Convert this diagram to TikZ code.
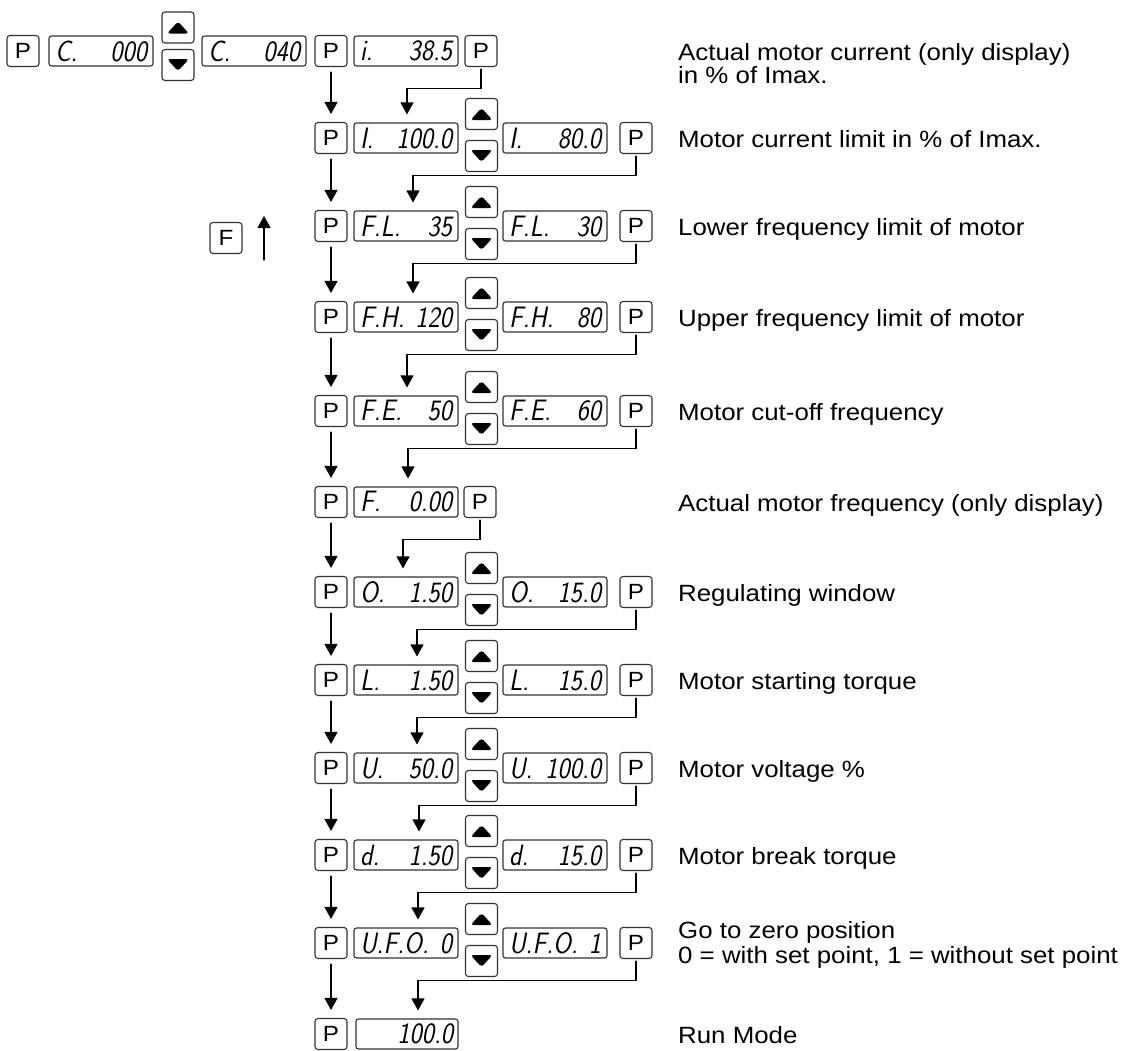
\documentclass[tikz,border=0pt]{standalone}
\usepackage{fontspec}
\setmainfont{Liberation Sans}[FakeStretch=1.1]
\newfontfamily\segfont{lmsans17-oblique.otf}[FakeStretch=0.88]
\usetikzlibrary{arrows.meta}
\newcommand\segtext[2]{\makebox[92pt]{#1\hfill#2}}

\begin{document}
\begin{tikzpicture}[x=1pt, y=-1pt, line cap=round,
    key/.style={draw=black!80, line width=1.1pt, rounded corners=3pt, minimum width=32pt,
      minimum height=31pt, inner sep=0pt, font=\fontsize{22}{24}\selectfont},
    disp/.style={draw=black!80, line width=1.1pt, rounded corners=2.5pt, minimum width=104pt,
      minimum height=30pt, inner sep=0pt, font=\segfont\fontsize{29.5}{30}\selectfont},
    upkey/.style={key, path picture={\fill (path picture bounding box.center) ++(-11pt,-6pt)
      -- ++(22pt,0pt) -- ++(-11pt,12pt) -- cycle;}},
    dnkey/.style={key, path picture={\fill (path picture bounding box.center) ++(-11pt,6pt)
      -- ++(22pt,0pt) -- ++(-11pt,-12pt) -- cycle;}},
    flow/.style={line width=1.1pt, -{Triangle[width=13pt,length=12pt]}},
    lbl/.style={anchor=base west, inner sep=0pt, font=\fontsize{23.5}{24}\selectfont}]
  \useasboundingbox (0,0) rectangle (1139,1050);
  % first row: code entry
  \node[key] (p0) at (23,51) {P};
  \node[disp] (c0) at (101,51) {\segtext{C.}{000}};
  \node[upkey] (up1) at (178,27.5) {};
  \node[dnkey] (dn1) at (178,65) {};
  \node[disp] (c1) at (254,51) {\segtext{C.}{040}};
  \node[key] (pl1) at (331,51) {P};
  \node[disp] (dl1) at (406,51) {\segtext{i.}{38.5}};
  \node[key] (pr1) at (481,51) {P};
  \node[lbl] (t1) at (678,60) {Actual motor current (only display)};
  \node[lbl] (t1b) at (678,83) {in \% of Imax.};
  % parameter rows with up/down keys
  \foreach \r/\y/\al/\ar/\bl/\br/\txt in {
      2/138/I./100.0/I./80.0/{Motor current limit in \% of Imax.},
      3/226/F.L./35/F.L./30/{Lower frequency limit of motor},
      4/317/F.H./120/F.H./80/{Upper frequency limit of motor},
      5/411/F.E./50/F.E./60/{Motor cut-off frequency},
      7/592/O./1.50/O./15.0/{Regulating window},
      8/680/L./1.50/L./15.0/{Motor starting torque},
      9/768/U./50.0/U./100.0/{Motor voltage \%},
      10/855/d./1.50/d./15.0/{Motor break torque}}{
    \node[key] (pl\r) at (331,\y) {P};
    \node[disp] (dl\r) at (406,\y) {\segtext{\al}{\ar}};
    \node[upkey] (up\r) at (481.5,\y-24) {};
    \node[dnkey] (dn\r) at (481.5,\y+18) {};
    \node[disp] (dr\r) at (555,\y) {\segtext{\bl}{\br}};
    \node[key] (pr\r) at (636,\y) {P};
    \node[lbl] (t\r) at (678,\y+9) {\txt};
  }
  \node[key] (pl11) at (331,943) {P};
  \node[disp] (dl11) at (406,943) {\segtext{U.F.O.}{0}};
  \node[upkey] (up11) at (481.5,919) {};
  \node[dnkey] (dn11) at (481.5,961) {};
  \node[disp] (dr11) at (555,943) {\segtext{U.F.O.}{1}};
  \node[key] (pr11) at (636,943) {P};
  \node[lbl] (t11) at (678,938) {Go to zero position};
  \node[lbl] (t11b) at (678,963) {0 = with set point, 1 = without set point};
  % display only rows
  \node[key] (pl6) at (331,502) {P};
  \node[disp] (dl6) at (406,502) {\segtext{F.}{0.00}};
  \node[key] (pr6) at (480,502) {P};
  \node[lbl] (t6) at (678,511) {Actual motor frequency (only display)};
  \node[key] (pl12) at (331,1034) {P};
  \node[disp, minimum width=102pt] (dl12) at (407,1034) {\segtext{}{100.0}};
  \node[lbl] (t12) at (678,1043) {Run Mode};
  % F key goes back
  \node[key] (fk) at (226,238) {F};
  \coordinate (fbot) at (264,260);
  \coordinate (ftop) at (264,216);
  \draw[flow] (fbot) -- (ftop);
  % P key: next parameter
  \foreach \a/\b in {1/2,2/3,3/4,4/5,5/6,6/7,7/8,8/9,9/10,10/11,11/12}
    \draw[flow, shorten <=5pt, shorten >=8pt] (pl\a.south) -- (pl\b.north);
  % P key: store value
  \foreach \a/\b/\dx in {1/2/1,2/3/7,3/4/7,4/5/1,5/6/2,6/7/-3,7/8/11,8/9/11,9/10/13,10/11/12,11/12/11}
    \draw[flow, shorten <=2pt, shorten >=8pt] (pr\a.south) -- ++(0,21) -| ([xshift=\dx]dl\b.north);
\end{tikzpicture}
\end{document}
